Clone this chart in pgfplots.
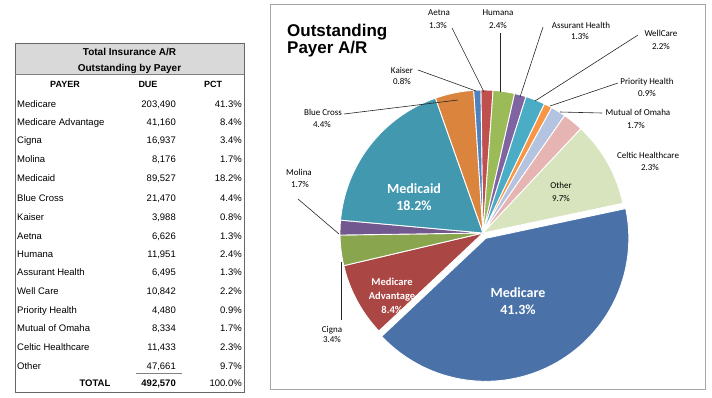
\documentclass[border=0pt]{standalone}
\usepackage{fontspec}
\setmainfont{Liberation Sans}
\newfontfamily\calfont{Carlito}
\usepackage{pgfplots}
\usepackage{pgfplotstable}
\pgfplotsset{compat=1.18}

\definecolor{cMedicare}{HTML}{4A72A8}
\definecolor{cMedAdv}{HTML}{AA4643}
\definecolor{cCigna}{HTML}{89A54E}
\definecolor{cMolina}{HTML}{71588F}
\definecolor{cMedicaid}{HTML}{4198AF}
\definecolor{cBlueCross}{HTML}{DB843D}
\definecolor{cKaiser}{HTML}{4F81BD}
\definecolor{cAetna}{HTML}{C0504D}
\definecolor{cHumana}{HTML}{9BBB59}
\definecolor{cAssurant}{HTML}{8064A2}
\definecolor{cWellCare}{HTML}{4BACC6}
\definecolor{cPriority}{HTML}{F79646}
\definecolor{cMutual}{HTML}{B3C3E0}
\definecolor{cCeltic}{HTML}{E6B4B3}
\definecolor{cOther}{HTML}{D7E4BD}
\definecolor{hdr}{HTML}{D9D9D9}

% payer, amount due, slice colour, explode offset
\pgfplotstableread{
payer due col dx dy
Medicare 203490 cMedicare 2.8 -5.3
MedicareAdvantage 41160 cMedAdv 0 0
Cigna 16937 cCigna 0 0
Molina 8176 cMolina 0 0
Medicaid 89527 cMedicaid 0 0
BlueCross 21470 cBlueCross 0 0
Kaiser 3988 cKaiser 0 0
Aetna 6626 cAetna 0 0
Humana 11951 cHumana 0 0
AssurantHealth 6495 cAssurant 0 0
WellCare 10842 cWellCare 0 0
PriorityHealth 4480 cPriority 0 0
MutualOfOmaha 8334 cMutual 0 0
CelticHealthcare 11433 cCeltic 0 0
Other 47661 cOther 0 0
}\piedata

\newcount\kk
\newcount\rr
\newcommand\buildcoords[4]{%
  \edef\coords{(#3,#4)}%
  \edef\nn{\fpeval{ceil(#2)+1}}%
  \kk=0
  \loop
    \edef\ang{\fpeval{#1-(#2)*\the\kk/\nn}}%
    \edef\coords{\coords(\fpeval{round(#3+143*cosd(\ang),3)},\fpeval{round(#4+143*sind(\ang),3)})}%
    \advance\kk by 1
  \ifnum\kk<\numexpr\nn+1\relax\repeat
  \edef\coords{\coords(#3,#4)}%
}

% build all slice plots from the table
\def\allplots{}
\def\cum{12}
\rr=0
\def\doslice{%
  \pgfplotstablegetelem{\the\rr}{due}\of\piedata \edef\due{\pgfplotsretval}%
  \pgfplotstablegetelem{\the\rr}{col}\of\piedata \edef\col{\pgfplotsretval}%
  \pgfplotstablegetelem{\the\rr}{dx}\of\piedata \edef\dx{\pgfplotsretval}%
  \pgfplotstablegetelem{\the\rr}{dy}\of\piedata \edef\dy{\pgfplotsretval}%
  \edef\sweep{\fpeval{\due/492570*360}}%
  \buildcoords{\cum}{\sweep}{\dx}{\dy}%
  \edef\allplots{\unexpanded\expandafter{\allplots}\noexpand\addplot[fill=\col, draw=white, line width=0.9pt, line join=round] coordinates {\coords};}%
  \edef\cum{\fpeval{\cum-\sweep}}%
}
\newcount\ss
\ss=0
\def\sliceloop{%
  \ifnum\ss<15
    \rr=\ss
    \doslice
    \advance\ss by 1
    \expandafter\sliceloop
  \fi}
\sliceloop

\newcommand\trow[4]{%
  \node[anchor=base west] at (17,{#1+3.5}) {#2};
  \node[anchor=base east] at (176,{#1+3.5}) {#3};
  \node[anchor=base east] at (242,{#1+3.5}) {#4};
}

\begin{document}
\begin{tikzpicture}[x=1pt,y=-1pt,inner sep=0pt]
% ---------- table ----------
\fill[hdr] (15,43) rectangle (244,74);
\draw[gray!80!black,line width=0.7pt] (15,43) rectangle (244,392);
\draw[gray,line width=0.6pt] (15,74) -- (244,74);
\begin{scope}[font=\fontsize{10}{12}\selectfont\bfseries]
\node[anchor=base] at (129.5,55.5) {Total Insurance A/R};
\node[anchor=base] at (129.5,71) {Outstanding by Payer};
\end{scope}
\begin{scope}[font=\fontsize{9}{11}\selectfont\bfseries]
\node[anchor=base] at (65,87.5) {PAYER};
\node[anchor=base] at (148,87.5) {DUE};
\node[anchor=base] at (213,87.5) {PCT};
\end{scope}
\begin{scope}[font=\fontsize{9.5}{11}\selectfont]
\trow{104}{Medicare}{203,490}{41.3\%}
\trow{122}{Medicare Advantage}{41,160}{8.4\%}
\trow{140}{Cigna}{16,937}{3.4\%}
\trow{159}{Molina}{8,176}{1.7\%}
\trow{178}{Medicaid}{89,527}{18.2\%}
\trow{198}{Blue Cross}{21,470}{4.4\%}
\trow{217}{Kaiser}{3,988}{0.8\%}
\trow{236}{Aetna}{6,626}{1.3\%}
\trow{254}{Humana}{11,951}{2.4\%}
\trow{272}{Assurant Health}{6,495}{1.3\%}
\trow{291}{Well Care}{10,842}{2.2\%}
\trow{310}{Priority Health}{4,480}{0.9\%}
\trow{328}{Mutual of Omaha}{8,334}{1.7\%}
\trow{347}{Celtic Healthcare}{11,433}{2.3\%}
\trow{366}{Other}{47,661}{9.7\%}
\node[anchor=base,font=\fontsize{9.5}{11}\selectfont\bfseries] at (95,386.5) {TOTAL};
\node[anchor=base east,font=\fontsize{9.5}{11}\selectfont\bfseries] at (176,386.5) {492,570};
\node[anchor=base east] at (242,386.5) {100.0\%};
\end{scope}
\draw[gray,line width=0.5pt] (136,373) -- (182,373);

% ---------- pie panel ----------
\draw[gray!70,line width=1pt] (270,4) rectangle (705,389);
\node[anchor=base west,font=\fontsize{17}{18.5}\selectfont\bfseries] at (287,36) {Outstanding};
\node[anchor=base west,font=\fontsize{17}{18.5}\selectfont\bfseries] at (287,53.5) {Payer A/R};

\begin{axis}[at={(483pt,-233pt)}, anchor=center, scale only axis,
  x=1pt, y=1pt, xmin=-200, xmax=200, ymin=-200, ymax=200,
  hide axis, clip=false]
\allplots
\end{axis}

% leader lines
\begin{scope}[black!85,line width=0.6pt]
\draw (452,28) -- (484,92);
\draw (500,33) -- (500,92);
\draw (543,27) -- (520,97);
\draw (638,35) -- (535,101);
\draw (618,83) -- (550,106);
\draw (602,113) -- (560,112);
\draw (418,70) -- (476,91);
\draw (344,114) -- (458,100);
\draw (298,199) -- (339,234);
\draw (341,320) -- (341,262);
\end{scope}

% labels
\begin{scope}[font=\calfont\fontsize{9}{10}\selectfont, anchor=base]
\node at (439,15) {Aetna}; \node at (438,28) {1.3\%};
\node at (498,15) {Humana}; \node at (498,28) {2.4\%};
\node at (581,28) {Assurant Health}; \node at (580,39.5) {1.3\%};
\node at (661,36) {WellCare}; \node at (661,49) {2.2\%};
\node at (647,84) {Priority Health}; \node at (647,96) {0.9\%};
\node at (638,115) {Mutual of Omaha}; \node at (636,128) {1.7\%};
\node at (648,158) {Celtic Healthcare}; \node at (650,170) {2.3\%};
\node at (402,73) {Kaiser}; \node at (402,84.5) {0.8\%};
\node at (323,115) {Blue Cross}; \node at (322,127) {4.4\%};
\node at (299,175) {Molina}; \node at (300,187) {1.7\%};
\node at (332,332) {Cigna}; \node at (332,342.5) {3.4\%};
\node at (561,188) {Other}; \node at (561,201) {9.7\%};
\end{scope}
\begin{scope}[font=\calfont\bfseries\fontsize{14}{16}\selectfont, anchor=base, text=white]
\node at (518,297) {Medicare}; \node at (518,314) {41.3\%};
\node at (414,193) {Medicaid}; \node at (414,210) {18.2\%};
\end{scope}
\begin{scope}[font=\calfont\bfseries\fontsize{10.5}{12}\selectfont, anchor=base, text=white]
\node at (392,285.5) {Medicare}; \node at (392,299.5) {Advantage}; \node at (392,313.5) {8.4\%};
\end{scope}

\pgfresetboundingbox
\useasboundingbox (0,0) rectangle (712,397);
\end{tikzpicture}
\end{document}
